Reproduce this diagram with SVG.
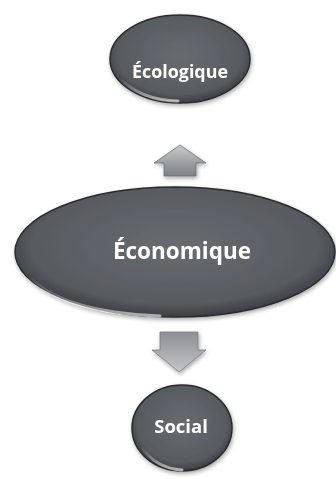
<svg xmlns="http://www.w3.org/2000/svg" width="336" height="479" viewBox="0 0 336 479">
<defs>
<radialGradient id="orb" cx="0.5" cy="0.45" r="0.6">
<stop offset="0" stop-color="#686c71"/>
<stop offset="0.75" stop-color="#575b60"/>
<stop offset="1" stop-color="#2c2f33"/>
</radialGradient>
<linearGradient id="shine" x1="0" y1="0" x2="0" y2="1">
<stop offset="0" stop-color="#ffffff" stop-opacity="0"/>
<stop offset="1" stop-color="#ffffff" stop-opacity="0.6"/>
</linearGradient>
<linearGradient id="arr" x1="0" y1="0" x2="0" y2="1">
<stop offset="0" stop-color="#c9cacc"/>
<stop offset="1" stop-color="#7d8084"/>
</linearGradient>
<linearGradient id="arrd" x1="0" y1="0" x2="0" y2="1">
<stop offset="0" stop-color="#8d9094"/>
<stop offset="1" stop-color="#c3c5c7"/>
</linearGradient>
<filter id="sh" x="-20%" y="-20%" width="140%" height="150%">
<feGaussianBlur in="SourceAlpha" stdDeviation="2"/>
<feOffset dx="1" dy="2" result="b"/>
<feComponentTransfer><feFuncA type="linear" slope="0.35"/></feComponentTransfer>
<feMerge><feMergeNode/><feMergeNode in="SourceGraphic"/></feMerge>
</filter>
</defs>
<style>
.orb{fill:url(#orb);stroke:#2a2c2f;stroke-width:1.5}
.lbl{font-family:"Open Sans","Noto Sans","DejaVu Sans",sans-serif;font-weight:bold;fill:#ffffff;text-anchor:middle}
.shine{fill:none;stroke:url(#shine);stroke-width:3;stroke-linecap:round}
</style>
<rect width="336" height="479" fill="#ffffff"/>
<g id="connectors">
<path d="M180,145 L206,163 L196,163 L196,176 L164,176 L164,163 L154,163 Z" fill="url(#arr)" stroke="#6f7276" stroke-width="0.8" filter="url(#sh)"/>
<path d="M160,332 L198,332 L198,350 L206,350 L179,372 L152,350 L160,350 Z" fill="url(#arrd)" stroke="#7a7d81" stroke-width="0.8" filter="url(#sh)"/>
</g>
<g id="ecologique" filter="url(#sh)">
<ellipse class="orb" cx="180" cy="59" rx="70" ry="44"/>
<path class="shine" d="M120,78 Q140,100 178,101"/>
<text class="lbl" x="180" y="78" font-size="17" textLength="96" lengthAdjust="spacingAndGlyphs">Écologique</text>
</g>
<g id="economique" filter="url(#sh)">
<ellipse class="orb" cx="175" cy="252" rx="160" ry="65"/>
<path class="shine" d="M28,275 Q60,312 160,316"/>
<text class="lbl" x="182" y="259" font-size="22.5">Économique</text>
</g>
<g id="social" filter="url(#sh)">
<ellipse class="orb" cx="182" cy="428" rx="50" ry="43"/>
<path class="shine" d="M142,447 Q155,468 182,470"/>
<text class="lbl" x="181" y="433" font-size="18.5">Social</text>
</g>
</svg>
